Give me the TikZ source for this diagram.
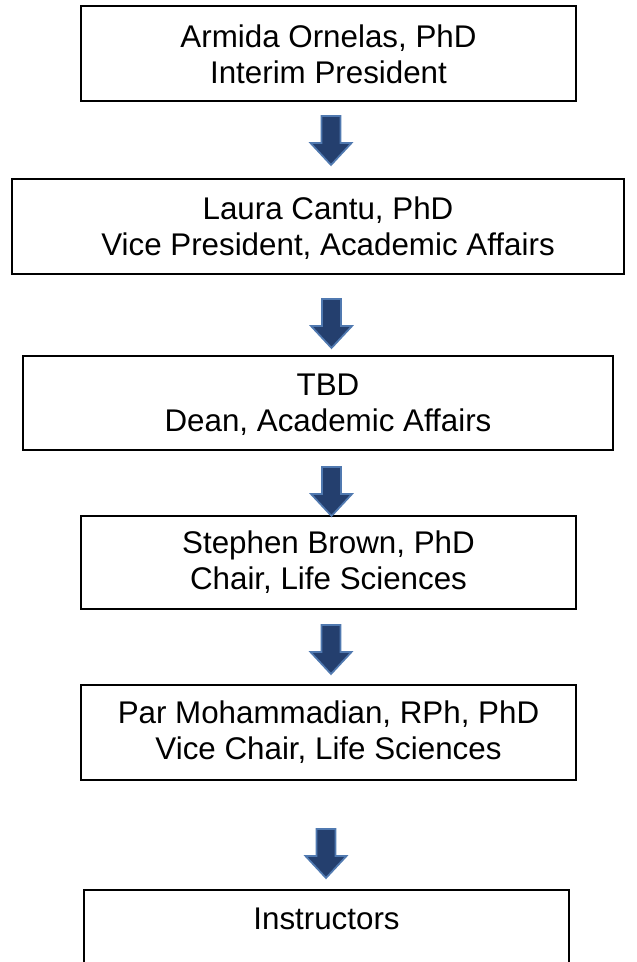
\documentclass[tikz,border=0pt]{standalone}
\usepackage{fontspec}
\setmainfont{Liberation Sans}
\usepackage{tikz}
\usetikzlibrary{positioning}
\definecolor{arrowfill}{HTML}{243F6E}
\definecolor{arrowedge}{HTML}{5079B0}
\tikzstyle{box} = [draw, line width=1.5pt, align=center, inner sep=0pt,
  font=\fontsize{23.5}{27}\selectfont]
\tikzstyle{boxtext} = [align=center, inner sep=0pt, font=\fontsize{23.5}{27}\selectfont]
\tikzstyle{blockarrow} = [fill=arrowfill, draw=arrowedge, line width=1.3pt, line join=miter]
% block arrow pointing down, #1 = top centre of the shaft
\newcommand{\downblock}[1]{\draw[blockarrow] (#1) ++(-9.5,0) -- ++(19,0) -- ++(0,27)
  -- ++(11,0) -- ++(-20.5,22) -- ++(-20.5,-22) -- ++(11,0) -- cycle;}

\begin{document}
\begin{tikzpicture}[x=0.75pt,y=-0.75pt]
	\useasboundingbox (0,0) rectangle (636,962);
	\clip (0,0) rectangle (636,962);
	\node[box, minimum width=371.25pt, minimum height=71.25pt] (pres) at (328.5,54) {Armida Ornelas, PhD\\ Interim President};
	\node[box, minimum width=459pt, minimum height=71.25pt] (vpaa) at (318,227) {};
	\node[boxtext] (vpaatext) at (328,228) {Laura Cantu, PhD\\ Vice President, Academic Affairs};
	\node[box, minimum width=442.5pt, minimum height=70.5pt] (dean) at (318,403) {};
	\node[boxtext] (deantext) at (328,405) {TBD\\ Dean, Academic Affairs};
	\node[box, minimum width=371.25pt, minimum height=69.75pt] (chair) at (328.5,562) {Stephen Brown, PhD\\ Chair, Life Sciences};
	\node[box, minimum width=371.25pt, minimum height=71.25pt] (vchair) at (328.5,732.5) {Par Mohammadian, RPh, PhD\\ Vice Chair, Life Sciences};
	\node[box, minimum width=363.75pt, minimum height=97.5pt, anchor=north] (instr) at (326.5,889) {};
	\node[boxtext] (instrtext) at (326.5,919) {Instructors};
	\downblock{331,116}
	\downblock{331.5,299}
	\downblock{331.5,467}
	\downblock{331,625}
	\downblock{326,829}
\end{tikzpicture}
\end{document}
